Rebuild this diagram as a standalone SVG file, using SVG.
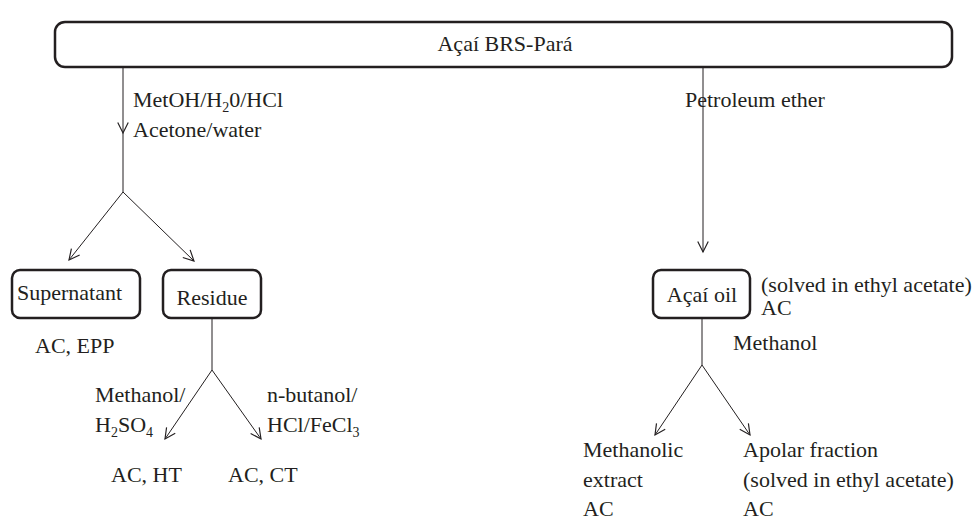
<svg xmlns="http://www.w3.org/2000/svg" width="978" height="521" viewBox="0 0 978 521">
<style>
text{font-family:"Liberation Serif","Times New Roman",serif;font-size:22px;fill:#231f20}
.box{fill:#fff;stroke:#231f20;stroke-width:2.5}
.ln{stroke:#231f20;stroke-width:1;fill:none}
.c{text-anchor:middle}
</style>
<defs>
<marker id="ah" markerUnits="userSpaceOnUse" markerWidth="14" markerHeight="14" refX="10" refY="5" orient="auto" viewBox="0 0 12 10">
<path d="M1,0.5 L10,5 L1,9.5" fill="none" stroke="#231f20" stroke-width="1"/>
</marker>
</defs>
<rect width="978" height="521" fill="#fff"/>
<g id="connectors">
<line class="ln" x1="123" y1="67" x2="123" y2="133" marker-end="url(#ah)"/>
<line class="ln" x1="123" y1="133" x2="123" y2="192"/>
<line class="ln" x1="123" y1="192" x2="69" y2="260" marker-end="url(#ah)"/>
<line class="ln" x1="123" y1="192" x2="194" y2="261" marker-end="url(#ah)"/>
<line class="ln" x1="212" y1="319" x2="212" y2="370"/>
<line class="ln" x1="212" y1="370" x2="165" y2="439" marker-end="url(#ah)"/>
<line class="ln" x1="212" y1="370" x2="261" y2="439" marker-end="url(#ah)"/>
<line class="ln" x1="703" y1="67" x2="703" y2="252" marker-end="url(#ah)"/>
<line class="ln" x1="702" y1="319" x2="702" y2="365"/>
<line class="ln" x1="702" y1="365" x2="655" y2="435" marker-end="url(#ah)"/>
<line class="ln" x1="702" y1="365" x2="750" y2="435" marker-end="url(#ah)"/>
</g>
<g id="labels">
<text x="133" y="107">MetOH/H<tspan font-size="14" dy="5">2</tspan><tspan dy="-5">0/HCl</tspan></text>
<text x="133" y="137">Acetone/water</text>
<text x="685" y="107">Petroleum ether</text>
<text x="95" y="402">Methanol/</text>
<text x="95" y="432">H<tspan font-size="14" dy="5">2</tspan><tspan dy="-5">SO</tspan><tspan font-size="14" dy="5">4</tspan></text>
<text x="267" y="402">n-butanol/</text>
<text x="267" y="432">HCl/FeCl<tspan font-size="14" dy="5">3</tspan></text>
<text x="733" y="350">Methanol</text>
</g>
<g id="n-acai"><rect class="box" x="55" y="22" width="897" height="45" rx="10"/><text class="c" x="505" y="51">Açaí BRS-Pará</text></g>
<g id="n-supernatant"><rect class="box" x="12" y="270" width="128" height="48" rx="8"/><text x="17" y="300">Supernatant</text></g>
<g id="n-supernatant-res"><text x="35" y="353">AC, EPP</text></g>
<g id="n-residue"><rect class="box" x="163" y="270" width="98" height="48" rx="8"/><text class="c" x="212" y="305">Residue</text></g>
<g id="n-ht"><text x="111" y="482">AC, HT</text></g>
<g id="n-ct"><text x="228" y="482">AC, CT</text></g>
<g id="n-oil"><rect class="box" x="653" y="270" width="97" height="48" rx="8"/><text class="c" x="702" y="302">Açaí oil</text>
<text x="761" y="292">(solved in ethyl acetate)</text><text x="761" y="315">AC</text></g>
<g id="n-methanolic"><text x="583" y="457">Methanolic</text><text x="583" y="487">extract</text><text x="583" y="516">AC</text></g>
<g id="n-apolar"><text x="743" y="457">Apolar fraction</text><text x="743" y="487">(solved in ethyl acetate)</text><text x="743" y="516">AC</text></g>
</svg>
